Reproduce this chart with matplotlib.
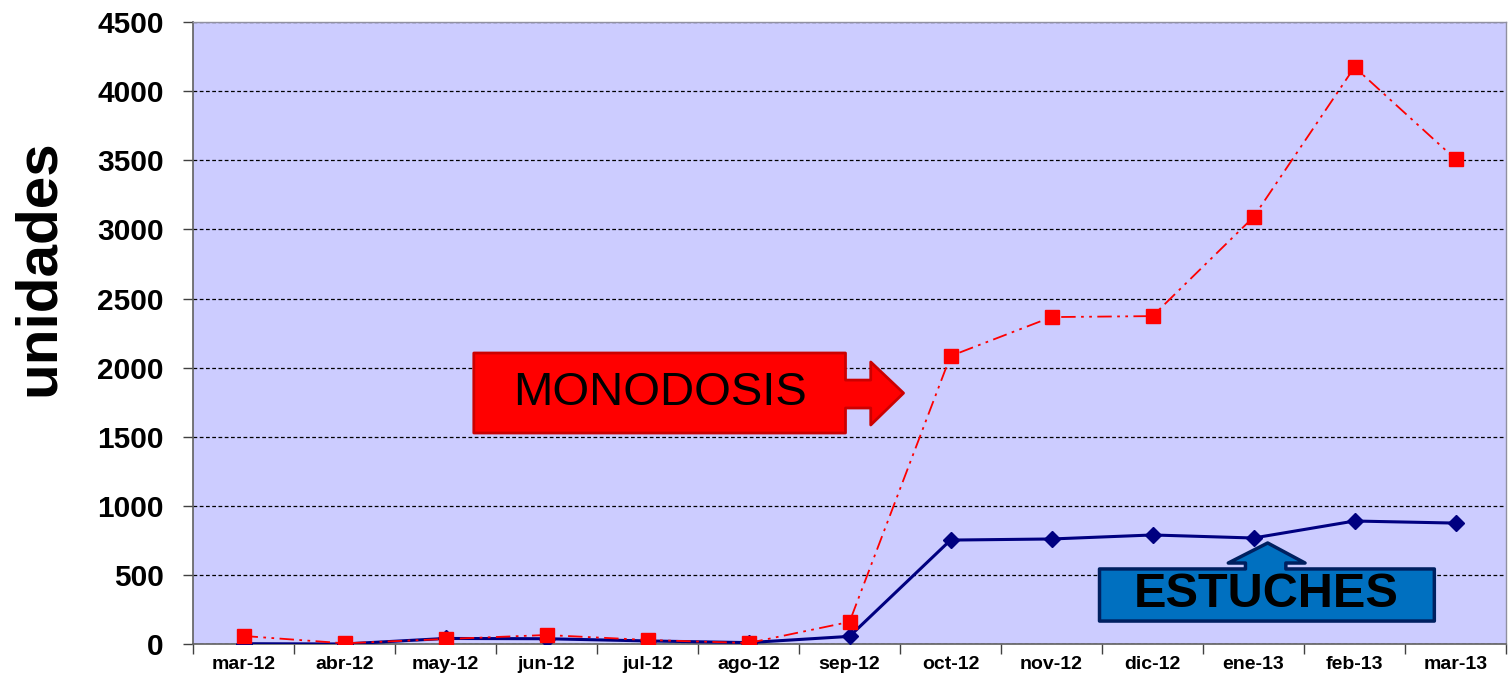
import matplotlib
matplotlib.use("Agg")
import matplotlib.pyplot as plt
from matplotlib.patches import Polygon

plt.rcParams['font.family'] = ['Liberation Sans', 'DejaVu Sans']

# data
months = ['mar-12', 'abr-12', 'may-12', 'jun-12', 'jul-12', 'ago-12', 'sep-12',
          'oct-12', 'nov-12', 'dic-12', 'ene-13', 'feb-13', 'mar-13']
monodosis = [58, 5, 36, 65, 29, 7, 160, 2084, 2366, 2373, 3090, 4175, 3509]
estuches = [2, 0, 40, 38, 22, 10, 55, 752, 760, 789, 767, 890, 875]
y_ticks = [0, 500, 1000, 1500, 2000, 2500, 3000, 3500, 4000, 4500]

fig = plt.figure(figsize=(15.08, 6.84), dpi=100)
ax = fig.add_axes([0.128, 0.0585, 0.8707, 0.909])
ax.set_facecolor('#CCCCFF')

x = list(range(len(months)))
ax.plot(x, estuches, color='#000080', lw=2.2, marker='D', ms=8,
        markerfacecolor='#000080', markeredgecolor='#000080', zorder=3)
ax.plot(x, monodosis, color='#FF0000', lw=1.3, dashes=(8, 3, 1.5, 3, 1.5, 3),
        marker='s', ms=10.5, markerfacecolor='#FF0000', markeredgecolor='#FF0000', zorder=4)

ax.set_xlim(-0.5, len(months) - 0.5)
ax.set_ylim(0, 4500)
ax.set_yticks(y_ticks)
ax.set_yticklabels([str(v) for v in y_ticks], fontsize=21.5, fontweight='bold')
ax.tick_params(axis='y', direction='out', length=7, width=1, color='#404040', pad=14)

# category boundaries as ticks, labels centred
ax.set_xticks([i - 0.5 for i in range(len(months) + 1)])
ax.set_xticklabels([])
ax.set_xticks(x, minor=True)
ax.set_xticklabels(months, minor=True, fontsize=14, fontweight='bold')
ax.tick_params(axis='x', which='major', direction='out', length=7, width=1, color='#404040')
ax.tick_params(axis='x', which='minor', length=0, pad=9)

ax.yaxis.grid(True, color='black', linestyle=(0, (3, 2)), lw=0.9)
ax.set_axisbelow(True)
for s in ['left', 'bottom']:
    ax.spines[s].set_color('#606060')
    ax.spines[s].set_linewidth(1.2)
for s in ['top', 'right']:
    ax.spines[s].set_color('#9090A0')
    ax.spines[s].set_linewidth(1)

ax.set_ylabel('unidades', fontsize=42, fontweight='bold')
ax.yaxis.set_label_coords(-0.097, 0.605)

# MONODOSIS arrow (right pointing)
mono_shape = [(2.28, 2106), (5.96, 2106), (5.96, 1910), (6.21, 1910), (6.21, 2041),
              (6.535, 1816), (6.21, 1585), (6.21, 1708), (5.96, 1708), (5.96, 1527),
              (2.28, 1527)]
ax.add_patch(Polygon(mono_shape, closed=True, facecolor='#FF0000', edgecolor='#CC0000',
                     lw=2, joinstyle='round', zorder=5))
ax.text(4.12, 1816, 'MONODOSIS', fontsize=34, ha='center', va='center', color='black', zorder=6)

# ESTUCHES arrow (up pointing)
est_shape = [(8.475, 166), (11.79, 166), (11.79, 543), (10.32, 543), (10.32, 586),
             (10.51, 586), (10.14, 731), (9.75, 586), (9.92, 586), (9.92, 543),
             (8.475, 543)]
ax.add_patch(Polygon(est_shape, closed=True, facecolor='#0070C0', edgecolor='#002060',
                     lw=2.5, joinstyle='round', zorder=5))
ax.text(10.13, 355, 'ESTUCHES', fontsize=35, fontweight='bold', ha='center', va='center',
        color='black', zorder=6)

fig.savefig('out.png', dpi=100, facecolor='white')
